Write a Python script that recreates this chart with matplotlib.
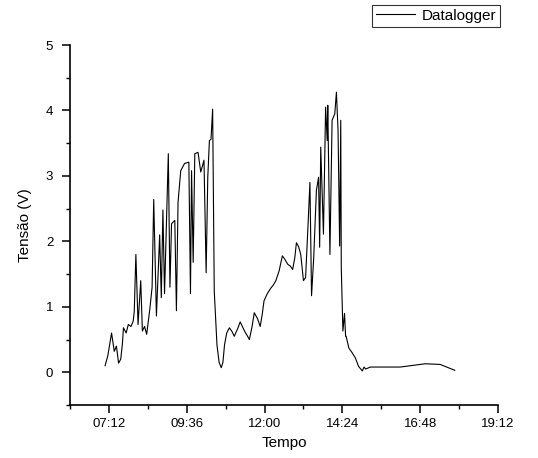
##------IMPORTING LIBRARIES--------------------------------------------
import matplotlib
matplotlib.use("Agg")
import matplotlib.pyplot as plt
from matplotlib.ticker import MultipleLocator, FuncFormatter

plt.rcParams['font.family'] = ['Liberation Sans', 'DejaVu Sans']

##------DATA-----------------------------------------------------------
tempo = ["07:05", "07:10", "07:17", "07:22", "07:26", "07:30", "07:34", "07:37",
         "07:39", "07:44", "07:48", "07:53", "07:57", "07:59", "08:02", "08:06",
         "08:11", "08:14", "08:18", "08:22", "08:28", "08:32", "08:35", "08:40",
         "08:46", "08:49", "08:52", "08:55", "09:02", "09:05", "09:08", "09:14",
         "09:17", "09:20", "09:25", "09:32", "09:40", "09:43", "09:45", "09:48",
         "09:51", "09:57", "10:02", "10:08", "10:12", "10:15", "10:18", "10:21",
         "10:24", "10:27", "10:32", "10:36", "10:40", "10:43", "10:46", "10:50",
         "10:55", "11:00", "11:04", "11:10", "11:15", "11:19", "11:23", "11:28",
         "11:32", "11:37", "11:41", "11:47", "11:52", "11:56", "11:59", "12:05",
         "12:12", "12:16", "12:21", "12:27", "12:33", "12:38", "12:43", "12:48",
         "12:52", "12:56", "12:59", "13:03", "13:07", "13:12", "13:16", "13:20",
         "13:24", "13:27", "13:31", "13:36", "13:40", "13:42", "13:44", "13:49",
         "13:53", "13:56", "13:57", "14:01", "14:05", "14:10", "14:13", "14:16",
         "14:19", "14:21", "14:22", "14:25", "14:28", "14:30", "14:31", "14:36",
         "14:42", "14:48", "14:54", "14:58", "15:01", "15:04", "15:07", "15:16",
         "15:33", "16:11", "16:39", "16:57", "17:25", "17:43", "17:52"]
tensao = [0.10, 0.25, 0.60, 0.32, 0.40, 0.14, 0.20, 0.43,
          0.68, 0.60, 0.73, 0.70, 0.78, 0.93, 1.80, 0.73,
          1.40, 0.63, 0.70, 0.58, 0.98, 1.30, 2.64, 0.86,
          2.10, 1.14, 2.48, 1.20, 3.34, 1.30, 2.27, 2.32,
          0.94, 2.60, 3.08, 3.19, 3.21, 1.20, 3.08, 1.68,
          3.34, 3.36, 3.06, 3.24, 1.52, 2.98, 3.54, 3.56,
          4.02, 1.24, 0.42, 0.15, 0.07, 0.15, 0.42, 0.60,
          0.68, 0.62, 0.55, 0.66, 0.77, 0.70, 0.63, 0.56,
          0.50, 0.70, 0.91, 0.82, 0.70, 0.90, 1.09, 1.20,
          1.29, 1.33, 1.40, 1.55, 1.78, 1.72, 1.65, 1.62,
          1.57, 1.75, 1.98, 1.92, 1.80, 1.40, 1.45, 2.16,
          2.90, 1.17, 1.75, 2.78, 2.98, 1.91, 3.44, 2.11,
          4.05, 3.54, 4.08, 1.80, 3.85, 3.95, 4.28, 3.70,
          1.93, 3.85, 1.60, 0.63, 0.90, 0.55, 0.55, 0.37,
          0.30, 0.22, 0.09, 0.05, 0.02, 0.08, 0.05, 0.08,
          0.08, 0.08, 0.11, 0.13, 0.12, 0.06, 0.03]

horas = [int(t[:2]) + int(t[3:]) / 60 for t in tempo]


def hhmm(x, pos):
    h = int(x)
    m = int(round((x - h) * 60))
    if m == 60:
        h, m = h + 1, 0
    return "%02d:%02d" % (h, m)


##------PLOTTING LINE CHART--------------------------------------------
fig = plt.figure(figsize=(5.38, 4.58), dpi=100)
ax = fig.add_axes([0.130, 0.1157, 0.7957, 0.786])

ax.plot(horas, tensao, color='black', linewidth=0.8, label='Datalogger')

ax.set_xlim(6.0, 19.2)
ax.set_ylim(-0.5, 5)
ax.xaxis.set_major_locator(MultipleLocator(2.4))
ax.xaxis.set_minor_locator(MultipleLocator(1.2))
ax.xaxis.set_major_formatter(FuncFormatter(hhmm))
ax.yaxis.set_major_locator(MultipleLocator(1))
ax.yaxis.set_minor_locator(MultipleLocator(0.5))

for s in ['top', 'right']:
    ax.spines[s].set_visible(False)
ax.spines['left'].set_linewidth(1.2)
ax.spines['bottom'].set_linewidth(1.2)
ax.tick_params(which='major', direction='out', length=6, width=1.1, labelsize=9.5)
ax.tick_params(axis='y', which='major', pad=6)
ax.tick_params(which='minor', direction='out', length=3, width=1.0)

ax.set_xlabel('Tempo', fontsize=11)
ax.set_ylabel('Tensão (V)', fontsize=11, labelpad=10)

leg = fig.legend(loc='upper right', bbox_to_anchor=(500 / 538, 1 - 5 / 458),
                 fontsize=11, frameon=True, fancybox=False, handlelength=2.6,
                 borderpad=0.25, handletextpad=0.4, borderaxespad=0)
leg.get_frame().set_edgecolor('black')
leg.get_frame().set_linewidth(0.8)

fig.savefig('out.png', dpi=100)
